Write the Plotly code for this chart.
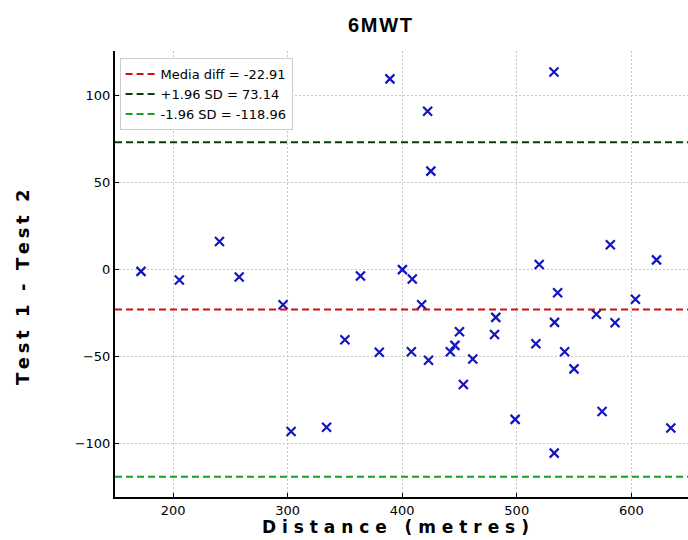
import plotly.graph_objects as go

# Data
distance = [172, 205.5, 240.5, 257.7, 296, 303, 334, 350, 363.6, 380, 389.3,
            400.2, 408.8, 408, 417, 422.2, 423, 425, 442, 446, 450, 453.4,
            461.6, 480.6, 481.7, 498.6, 516.7, 519.6, 532.5, 533, 535.7, 532.7,
            541.8, 550, 569.5, 574.5, 581.7, 585.8, 603.6, 622, 634.5]
difference = [-1, -6, 16.2, -4.2, -20.2, -93, -90.5, -40.3, -3.7, -47.4, 109.6,
              0, -5.4, -47.2, -20.2, 91, -52, 56.6, -47.2, -43.5, -35.7, -66,
              -51.3, -37.2, -27.4, -86, -42.6, 3, 113.5, -30.3, -13.3, -105.4,
              -47.2, -57, -25.6, -81.5, 14.3, -30.5, -17, 5.6, -91]

mean_diff = -22.91
upper_loa = 73.14
lower_loa = -118.96

ref_names = ["Media diff = -22.91", "+1.96 SD = 73.14", "-1.96 SD = -118.96"]
ref_values = [mean_diff, upper_loa, lower_loa]
ref_colors = ["#d01010", "#083c08", "#1aa01a"]

x_ticks = [200, 300, 400, 500, 600]
y_ticks = [-100, -50, 0, 50, 100]

W, H = 688, 540


def spaced(s, sep="\u2009"):
    out = []
    for ch in s:
        out.append("\u00a0" if ch == " " else ch)
    return sep.join(out)


fig = go.Figure()

fig.add_trace(go.Scatter(
    x=distance, y=difference, mode="markers",
    marker=dict(symbol="x-thin", size=9, line=dict(width=2.2, color="#1414c0"),
                color="#1414c0"),
    showlegend=False, hoverinfo="x+y",
))

shapes = []
for name, val, col in zip(ref_names, ref_values, ref_colors):
    shapes.append(dict(
        type="line", xref="paper", x0=0, x1=1, yref="y", y0=val, y1=val,
        line=dict(color=col, width=2, dash="7px,4px"),
        showlegend=True, name=name, layer="above",
    ))

grid_style = dict(showgrid=True, gridcolor="#c8c8c8", griddash="2px,2px", gridwidth=1)

fig.update_layout(
    width=W, height=H,
    margin=dict(l=115, r=0, t=51, b=H - 497),
    paper_bgcolor="white", plot_bgcolor="white",
    shapes=shapes,
    title=dict(text="<b>" + spaced("6MWT", "\u200a") + "</b>",
               x=380 / W, xref="container", xanchor="center",
               y=1 - 25 / H, yref="container", yanchor="middle",
               font=dict(family="Liberation Sans", size=20, color="black")),
    font=dict(family="DejaVu Sans", size=13, color="black"),
    legend=dict(x=0.008, y=0.984, xanchor="left", yanchor="top",
                bgcolor="white", bordercolor="#cccccc", borderwidth=1,
                font=dict(family="DejaVu Sans", size=13, color="black"),
                tracegroupgap=0, itemwidth=30),
    xaxis=dict(range=[149.3, 649.5], tickvals=x_ticks, ticks="inside", ticklen=4,
               tickcolor="black", showline=True, linecolor="black", linewidth=2,
               zeroline=False, tickfont=dict(size=13), **grid_style),
    yaxis=dict(range=[-130.6, 125.6], tickvals=y_ticks, ticks="inside", ticklen=4,
               tickcolor="black", showline=True, linecolor="black", linewidth=2,
               zeroline=False, tickfont=dict(size=13), **grid_style),
    annotations=[
        dict(text="<b>" + spaced("Distance (metres)", "\u00a0") + "</b>",
             xref="paper", yref="paper", x=(395 - 115) / 573, y=-(527 - 497) / 446,
             xanchor="center", yanchor="middle", showarrow=False,
             font=dict(family="DejaVu Sans", size=17, color="black")),
        dict(text="<b>" + spaced("Test 1 - Test 2", "\u2009") + "</b>",
             xref="paper", yref="paper", x=(22 - 115) / 573, y=(497 - 287) / 446,
             xanchor="center", yanchor="middle", textangle=-90, showarrow=False,
             font=dict(family="DejaVu Sans", size=18, color="black")),
    ],
)

fig.write_html("out.html",
               config={"displayModeBar": False},
               post_script="document.body.style.margin='0px';"
                           "document.body.style.overflow='hidden';")
